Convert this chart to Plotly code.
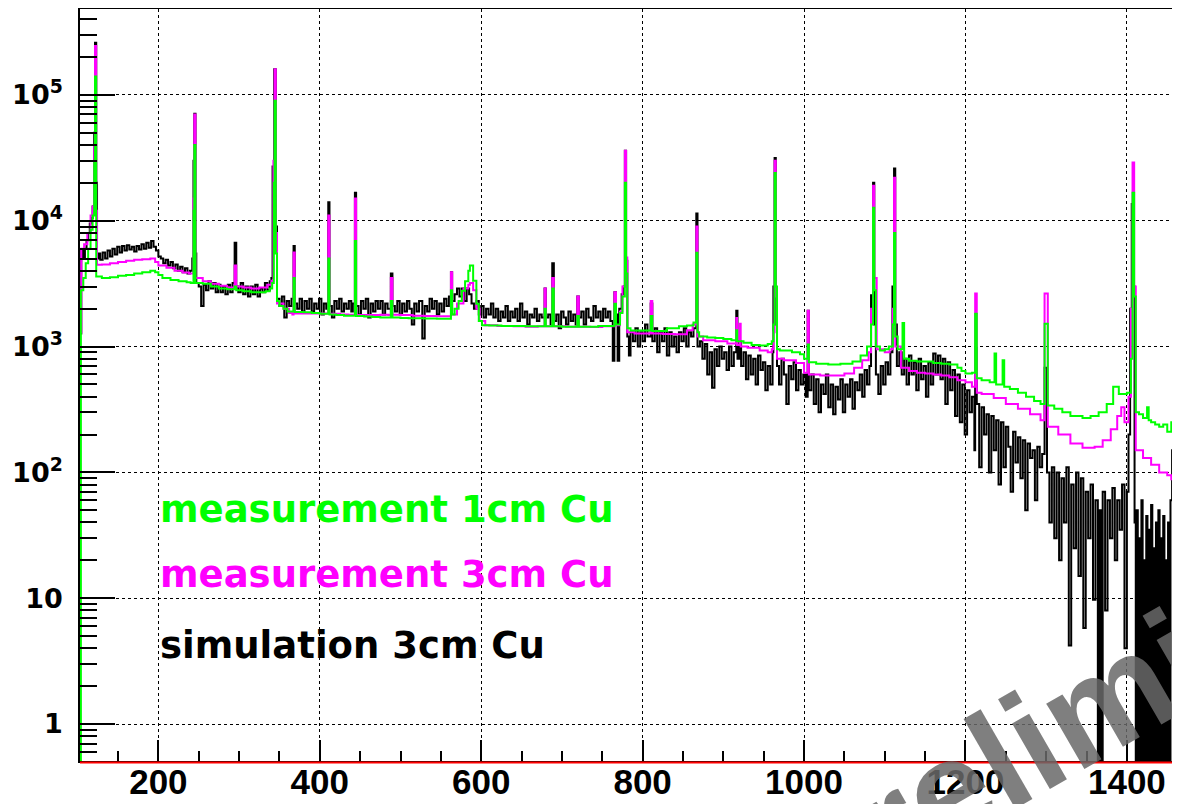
import plotly.graph_objects as go

# ---------------- data (energy in keV, counts per bin) ----------------
energy_green = [102.9, 104, 107, 110, 113, 116, 118.5, 120.5, 121.5, 123,
    130, 140, 150, 160, 170, 180, 190, 196, 200, 205, 215, 225, 235, 240,
    243.5, 244.5, 246, 255, 265, 275, 285, 294.5, 296.5, 305, 315, 325, 333, 338, 341,
    343, 344, 345.5, 347, 350, 355, 360, 366, 367.5, 369, 380, 390, 400, 408, 410.5, 412,
    420, 430, 440, 443.5, 445, 455, 465, 475, 485, 488, 490, 500, 510, 520, 530, 545, 555,
    562.5, 564, 567, 572, 576, 580, 584, 586, 590, 594, 597, 601, 610, 625, 640, 655, 670,
    678.5, 680, 688, 690, 700, 710, 719, 721, 730, 745, 765, 767, 772, 775, 778, 779.5, 781,
    785, 795, 810, 812, 830, 845, 855, 863, 866.5, 868, 870, 880, 890, 900, 910, 916, 917, 925, 935,
    945, 955, 960, 962, 963.5, 965, 966.5, 970, 985, 995, 1000, 1004.5, 1006, 1015, 1030, 1045,
    1060, 1070, 1078, 1083, 1085.5, 1087, 1089, 1094, 1100, 1105, 1110, 1111.5, 1113, 1116, 1122, 1124,
    1130, 1140, 1150, 1160, 1170, 1180, 1190, 1195, 1200, 1208, 1212, 1214, 1220, 1230, 1236, 1238,
    1246, 1248, 1255, 1265, 1275, 1285, 1293, 1298, 1302, 1310, 1320, 1330, 1345, 1355, 1365,
    1375, 1383, 1390, 1400, 1405, 1407, 1409, 1411, 1415, 1420, 1425, 1427, 1430, 1435, 1440, 1445,
    1450, 1455, 1458, 1462]
counts_green = [0, 2800, 3500, 4600, 6000, 8500, 11000, 30000, 140000, 3600,
    3500, 3550, 3650, 3700, 3800, 3900, 4000, 3900, 3700, 3500, 3380, 3300, 3250, 3200,
    12000, 40000, 3200, 3150, 3000, 2900, 2850, 3000, 2800, 2750, 2700, 2700, 2750, 2900, 3200,
    20000, 90000, 5500, 2300, 2100, 2000, 1900, 1900, 3500, 1880, 1870, 1850, 1820, 1820, 5000, 1800,
    1780, 1760, 1760, 6900, 1750, 1730, 1720, 1700, 1700, 2300, 1700, 1690, 1680, 1680, 1670, 1660, 1660,
    2800, 1800, 2000, 2300, 2780, 3300, 4000, 4400, 3330, 2190, 1600, 1480, 1470, 1460, 1460, 1450, 1450,
    2000, 1450, 2900, 1450, 1440, 1440, 1750, 1440, 1440, 1460, 2190, 1500, 1850, 2500, 20000, 3800, 1400,
    1340, 1340, 1750, 1330, 1400, 1450, 1470, 1550, 5570, 1300, 1200, 1180, 1170, 1150, 1120, 1350, 1100, 1070, 1030,
    1020, 1050, 1100, 1500, 24000, 3000, 950, 930, 900, 870, 800, 1040, 750, 730, 720, 730,
    760, 850, 1000, 1500, 12700, 2800, 1000, 930, 950, 1000, 1500, 8000, 1200, 950, 1540, 800,
    770, 760, 760, 740, 730, 720, 680, 640, 610, 620, 1820, 560, 540, 520, 880, 500,
    780, 480, 460, 430, 400, 370, 350, 1520, 340, 320, 300, 280, 270, 280, 300,
    350, 480, 420, 430, 800, 16700, 2500, 300, 290, 270, 330, 260, 250, 240, 230, 240,
    210, 250, 680, 400]

energy_magenta = [103, 104.5, 108, 112, 116, 118.5, 120.5, 121.5, 123, 124,
    130, 140, 150, 160, 170, 180, 190, 196, 200, 210, 220, 230, 238,
    243.5, 244.5, 246, 255, 265, 275, 285, 294.5, 296.5, 305, 315, 325, 335, 340,
    342.5, 344, 345.5, 347, 355, 362, 366, 367.5, 369, 380, 395, 405, 410.5, 412,
    425, 435, 443.5, 445, 460, 475, 485, 488, 490, 500, 515, 530, 545,
    562.5, 564, 570, 578, 584, 586, 590, 594, 598, 605, 620, 640, 655, 670,
    678.5, 680, 688, 690, 705, 719, 721, 735, 750, 765, 767, 772, 775, 778, 779.5, 781,
    790, 800, 810, 812, 825, 840, 855, 862, 866.5, 868, 875, 890, 905, 916, 917, 920, 921.5,
    930, 945, 955, 960, 962, 963.5, 965, 966.5, 975, 990, 1000, 1004.5, 1006, 1020, 1035,
    1050, 1062, 1072, 1080, 1083, 1085.5, 1087, 1090, 1100, 1106, 1110, 1111.5, 1113,
    1120, 1130, 1140, 1150, 1160, 1170, 1180, 1190, 1200, 1208, 1212, 1214, 1220, 1235,
    1250, 1265, 1280, 1293, 1298, 1302, 1315, 1330, 1345, 1360, 1370, 1380, 1388, 1393,
    1397, 1402, 1405, 1407, 1409, 1411, 1420, 1430, 1440, 1450, 1455, 1458, 1462]
counts_magenta = [1300, 6000, 6500, 8000, 11000, 13000, 40000, 245000, 12000, 4470,
    4500, 4600, 4700, 4800, 4900, 4950, 5000, 4700, 4400, 4230, 4000, 3870, 3800,
    15000, 70000, 3500, 3300, 3150, 3050, 2950, 4400, 3000, 2950, 2900, 2950, 3100, 3340,
    30000, 160000, 8000, 2200, 2000, 1850, 1800, 5600, 1830, 1830, 1830, 1830, 11000, 1820,
    1800, 1790, 15000, 1780, 1780, 1790, 1780, 3500, 1790, 1780, 1760, 1750, 1740,
    3900, 1800, 2200, 2900, 3100, 3200, 2800, 2000, 1600, 1480, 1460, 1450, 1440, 1450,
    2900, 1450, 3500, 1450, 1440, 2500, 1440, 1430, 1450, 2700, 1480, 1900, 3000, 36000, 5100, 1300,
    1270, 1270, 2300, 1270, 1260, 1250, 1350, 1500, 9000, 1200, 1120, 1100, 1060, 1690, 1030, 1520, 1000,
    980, 930, 900, 950, 1300, 30000, 2500, 800, 780, 740, 620, 1930, 600, 590, 590,
    610, 680, 780, 900, 2000, 19000, 3500, 950, 900, 950, 2000, 22000, 1000,
    680, 640, 620, 610, 600, 590, 570, 540, 520, 480, 2640, 430, 420, 390,
    350, 320, 290, 260, 2640, 230, 200, 170, 157, 160, 180, 220, 280, 330,
    250, 400, 2000, 29000, 3000, 150, 130, 115, 100, 95, 88, 780, 100]

energy_black = [103, 104.5, 107, 109, 111, 113, 115, 117, 118.5, 120.5, 121.5, 123, 124,
    126, 128, 131, 134, 137, 140, 143, 146, 149, 152, 155, 158, 161, 164, 167, 170, 173, 176,
    179, 182, 185, 188, 191, 194, 197, 200, 203, 206, 209, 212, 215, 218, 221, 224, 227, 230,
    233, 236, 239, 242, 243.5, 244.5, 246, 247, 250, 253, 256, 259, 262, 265, 268, 271, 274,
    277, 280, 283, 286, 289, 292, 294.5, 296.5, 299, 302, 305, 308, 311, 314, 317, 320, 323,
    326, 329, 332, 335, 338, 340, 341.5, 343.5, 345.5, 347, 350, 353, 356, 359, 362, 365,
    367.5, 369, 372, 375, 378, 381, 384, 387, 390, 393, 396, 399, 402, 405, 408, 410.5, 412,
    415, 418, 421, 424, 427, 430, 433, 436, 439, 441, 443.5, 445, 448, 451, 454, 457, 460,
    463, 466, 469, 472, 475, 478, 481, 484, 488, 490, 493, 496, 499, 502, 505, 508, 511, 514,
    517, 520, 523, 527, 530, 533, 536, 539, 542, 545, 548, 551, 554, 557, 560, 562.5, 564,
    567, 570, 573, 576, 579, 582, 585, 588, 591, 594, 597, 600, 603, 606, 609, 612, 615, 618,
    621, 624, 627, 630, 633, 636, 639, 642, 645, 648, 651, 654, 657, 660, 663, 666, 669, 672,
    675, 678.5, 680, 683, 686, 688, 690, 693, 696, 699, 702, 705, 708, 711, 714, 717, 719, 721,
    724, 727, 730, 733, 736, 739, 742, 745, 748, 751, 754, 757, 760, 763, 765, 767, 769, 771,
    774, 776.5, 778, 779.5, 781, 783, 785, 788, 791, 794, 797, 800, 803, 806, 810, 812, 815,
    818, 821, 824, 827, 830, 833, 836, 839, 842, 845, 848, 851, 854, 857, 860, 863, 866.5, 868,
    871, 874, 877, 880, 883, 886, 889, 892, 895, 898, 901, 904, 907, 910, 913, 916, 917.5, 920,
    922, 925, 928, 931, 934, 937, 940, 943, 946, 949, 952, 955, 958, 961, 962, 963.5, 965,
    966.5, 969, 972, 975, 978, 981, 984, 987, 990, 993, 996, 999, 1002, 1004.5, 1006, 1009,
    1012, 1015, 1018, 1021, 1024, 1027, 1030, 1033, 1036, 1039, 1042, 1045, 1048, 1051, 1054,
    1057, 1060, 1063, 1066, 1069, 1072, 1075, 1078, 1081, 1083, 1085.5, 1087, 1089, 1092,
    1095, 1098, 1101, 1104, 1107, 1109.5, 1111.5, 1113, 1115, 1118, 1121, 1124, 1127, 1130,
    1133, 1136, 1139, 1142, 1145, 1148, 1151, 1154, 1157, 1160, 1163, 1166, 1169, 1172, 1175,
    1178, 1181, 1184, 1187, 1190, 1193, 1196, 1199, 1202, 1205, 1208, 1211, 1212, 1214, 1217,
    1220, 1223, 1226, 1229, 1232, 1235, 1238, 1241, 1244, 1247, 1250, 1253, 1256, 1259, 1262,
    1265, 1268, 1271, 1274, 1277, 1280, 1283, 1286, 1289, 1292, 1295, 1298, 1301, 1304, 1307,
    1310, 1313, 1316, 1319, 1322, 1325, 1328, 1331, 1334, 1337, 1340, 1343, 1346, 1349, 1352,
    1355, 1358, 1361, 1364, 1366, 1368, 1370, 1373, 1376, 1379, 1382, 1385, 1388, 1391, 1394,
    1397, 1400, 1402, 1404, 1406, 1408, 1409.5, 1411, 1412, 1413.5, 1415, 1416.5, 1418, 1419.5,
    1421, 1422.5, 1424, 1425.5, 1427, 1428.5, 1430, 1431.5, 1433, 1434.5, 1436, 1437.5, 1439,
    1440.5, 1442, 1443.5, 1445, 1446.5, 1448, 1449.5, 1451, 1452.5, 1454, 1456, 1458, 1460,
    1462, 1463]
counts_black = [1270, 5800, 5000, 6000, 7000, 8000, 9500, 10500, 13000, 50000, 260000, 20000, 5000,
    5500, 4900, 5600, 5000, 5800, 5200, 6000, 5400, 6200, 5600, 6300, 5800, 6400, 5900, 6200, 5700, 6300, 5900,
    6500, 6000, 6700, 6100, 6900, 6200, 5800, 5200, 5000, 4600, 4900, 4400, 4700, 4200, 4500, 4000, 4300, 3900,
    4200, 3800, 4000, 5000, 30000, 71000, 5500, 3200, 3000, 2100, 3100, 2800, 3300, 2900, 3200, 2700, 3100,
    2700, 3000, 2600, 3100, 2700, 3200, 6700, 3000, 2700, 3200, 2600, 3000, 2500, 3000, 2600, 3100, 2500,
    2900, 2700, 3200, 2800, 3300, 3500, 27000, 160000, 9000, 2400, 2100, 2500, 1700, 2300, 2100, 2400,
    6300, 2200, 2000, 2400, 1900, 2300, 2000, 2400, 1900, 2200, 2000, 2400, 1800, 2200, 2000, 14000, 2100,
    1700, 2300, 2000, 2400, 1900, 2200, 2000, 2300, 1900, 2200, 16700, 2100, 1800, 2300, 2000, 2400, 1700,
    2200, 1900, 2300, 2000, 2300, 1800, 2200, 2000, 3800, 2100, 1900, 2300, 1800, 2200, 1900, 2300, 2000, 1500,
    2200, 1900, 2300, 1160, 2100, 1900, 2400, 2000, 2300, 1800, 2200, 1900, 2400, 2100, 2500, 3900, 2300,
    2600, 2900, 2500, 2900, 2300, 2900, 2600, 2200, 2000, 2300, 1800, 2100, 1700, 2000, 1800, 2200, 1700, 2000,
    1600, 1900, 1700, 2100, 1600, 1900, 1700, 2000, 1600, 2200, 1700, 1900, 1500, 1800, 1700, 2000, 1600, 1800,
    1700, 2900, 1700, 1800, 1500, 4600, 1600, 1800, 1400, 1900, 1700, 1500, 1900, 1600, 1800, 1500, 2500, 1700,
    1900, 1500, 2000, 1700, 1600, 2100, 1700, 1900, 1600, 2000, 1700, 1900, 1600, 770, 2700, 1800, 770, 2000,
    2600, 3000, 36000, 4800, 1200, 850, 1300, 1100, 1400, 1000, 1300, 1100, 1500, 1200, 2200, 1100, 1400,
    900, 1300, 1100, 1400, 850, 1300, 1000, 1200, 900, 1300, 1100, 1400, 1000, 1300, 1200, 1400, 11400, 1000,
    1100, 800, 1050, 600, 900, 470, 950, 700, 1000, 800, 900, 650, 1000, 700, 900, 1930, 800, 1100,
    700, 900, 550, 850, 600, 800, 500, 850, 650, 750, 450, 700, 500, 900, 3000, 31600, 1500,
    700, 500, 800, 600, 350, 700, 550, 750, 450, 650, 500, 600, 400, 1930, 450, 600,
    350, 550, 300, 500, 420, 600, 330, 500, 290, 480, 380, 550, 300, 500, 400,
    550, 320, 520, 450, 600, 400, 650, 500, 700, 2560, 20000, 1500, 600, 420,
    700, 500, 750, 600, 900, 3000, 26000, 1500, 700, 900, 600, 800, 500, 850,
    600, 750, 450, 800, 550, 700, 400, 750, 500, 880, 600, 850, 550, 800, 350,
    750, 450, 650, 280, 600, 250, 500, 200, 450, 300, 400, 150, 980, 350, 110,
    330, 200, 290, 100, 280, 150, 260, 80, 250, 110, 230, 160, 70, 210, 120,
    190, 90, 180, 50, 170, 130, 150, 60, 160, 110, 140, 680, 100, 40, 110,
    30, 100, 20, 90, 40, 110, 4.2, 80, 25, 100, 15, 90, 5.8, 70, 30,
    80, 9.7, 60, 0, 50, 0, 70, 8, 60, 30, 75, 20, 60, 35, 80,
    4, 70, 200, 2000, 13600, 3000, 40, 0, 50, 0, 30, 0, 60, 0,
    20, 0, 45, 0, 35, 0, 55, 0, 25, 0, 40, 0, 50,
    0, 30, 0, 45, 0, 20, 0, 40, 0, 60, 150, 600, 80,
    0, 40]

legend_labels = ["measurement 1cm Cu", "measurement 3cm Cu", "simulation 3cm Cu"]
legend_colors = ["#00ff00", "#ff00ff", "#000000"]
ytick_vals = [1, 10, 100, 1e3, 1e4, 1e5]
ytick_text = ["1", "10", "10<sup>2</sup>", "10<sup>3</sup>", "10<sup>4</sup>", "10<sup>5</sup>"]
watermark = "Preliminary"

# empty bins cannot sit on a log axis: push them below the visible range
FLOOR = 0.05
def floor(v):
    return [c if c > 0 else FLOOR for c in v]

fig = go.Figure()
series = [(energy_black, counts_black, "#000000"),
          (energy_magenta, counts_magenta, "#ff00ff"),
          (energy_green, counts_green, "#00ff00")]
for ex, cy, col in series:
    fig.add_trace(go.Scatter(x=ex, y=floor(cy), mode="lines",
                             line=dict(color=col, width=2, shape="hv"),
                             hoverinfo="skip", showlegend=False, cliponaxis=True))

minor_y = [k * 10 ** e for e in range(-1, 6) for k in range(2, 10)]

# the page body adds an 8 px offset, so the figure is 8 px smaller than the window
fig.update_layout(
    width=1172, height=796,
    margin=dict(l=72, r=0, t=1, b=43, autoexpand=False),
    paper_bgcolor="white", plot_bgcolor="white",
    showlegend=False,
    xaxis=dict(range=[102.9, 1465.8], tick0=0, dtick=200, automargin=False,
               ticks="inside", ticklen=21, tickwidth=1.5, tickcolor="black",
               showgrid=True, gridcolor="black", griddash="dot", gridwidth=1,
               showline=True, linecolor="black", linewidth=1.5, mirror=True,
               zeroline=False, ticklabelstandoff=-11,
               tickfont=dict(family="Liberation Sans", size=35, color="black", weight="bold"),
               minor=dict(dtick=50, tick0=0, ticks="inside", ticklen=10,
                          tickwidth=1.5, tickcolor="black", showgrid=False)),
    yaxis=dict(type="log", range=[-0.294, 5.683], automargin=False,
               tickmode="array", tickvals=ytick_vals, ticktext=ytick_text,
               ticks="inside", ticklen=35, tickwidth=1.5, tickcolor="black",
               showgrid=True, gridcolor="black", griddash="dot", gridwidth=1,
               showline=True, linecolor="black", linewidth=1.5, mirror=True,
               zeroline=False, ticklabelstandoff=10,
               tickfont=dict(family="DejaVu Sans", size=27, color="black", weight="bold"),
               minor=dict(tickmode="array", tickvals=minor_y, ticks="inside", ticklen=17,
                          tickwidth=1.5, tickcolor="black", showgrid=False)),
)

# red baseline under the x axis
fig.add_shape(type="line", xref="paper", yref="paper", x0=0, x1=1, y0=-0.002, y1=-0.002,
              line=dict(color="#ff0000", width=2))

# text labels of the three histograms
label_y = [0.3347, 0.2483, 0.154]
for txt, col, yy in zip(legend_labels, legend_colors, label_y):
    fig.add_annotation(text=txt, xref="paper", yref="paper", x=0.0709, y=yy,
                       xanchor="left", yanchor="middle", showarrow=False,
                       font=dict(family="DejaVu Sans", size=37, color=col, weight="bold"))

# watermark
fig.add_annotation(text=watermark, xref="paper", yref="paper", x=0.945, y=0.093,
                   xanchor="center", yanchor="middle", showarrow=False, textangle=-30,
                   font=dict(family="Liberation Sans", size=143, color="rgba(105,105,105,0.85)",
                             weight="bold"))

fig.write_html("out.html", config={"displayModeBar": False})
